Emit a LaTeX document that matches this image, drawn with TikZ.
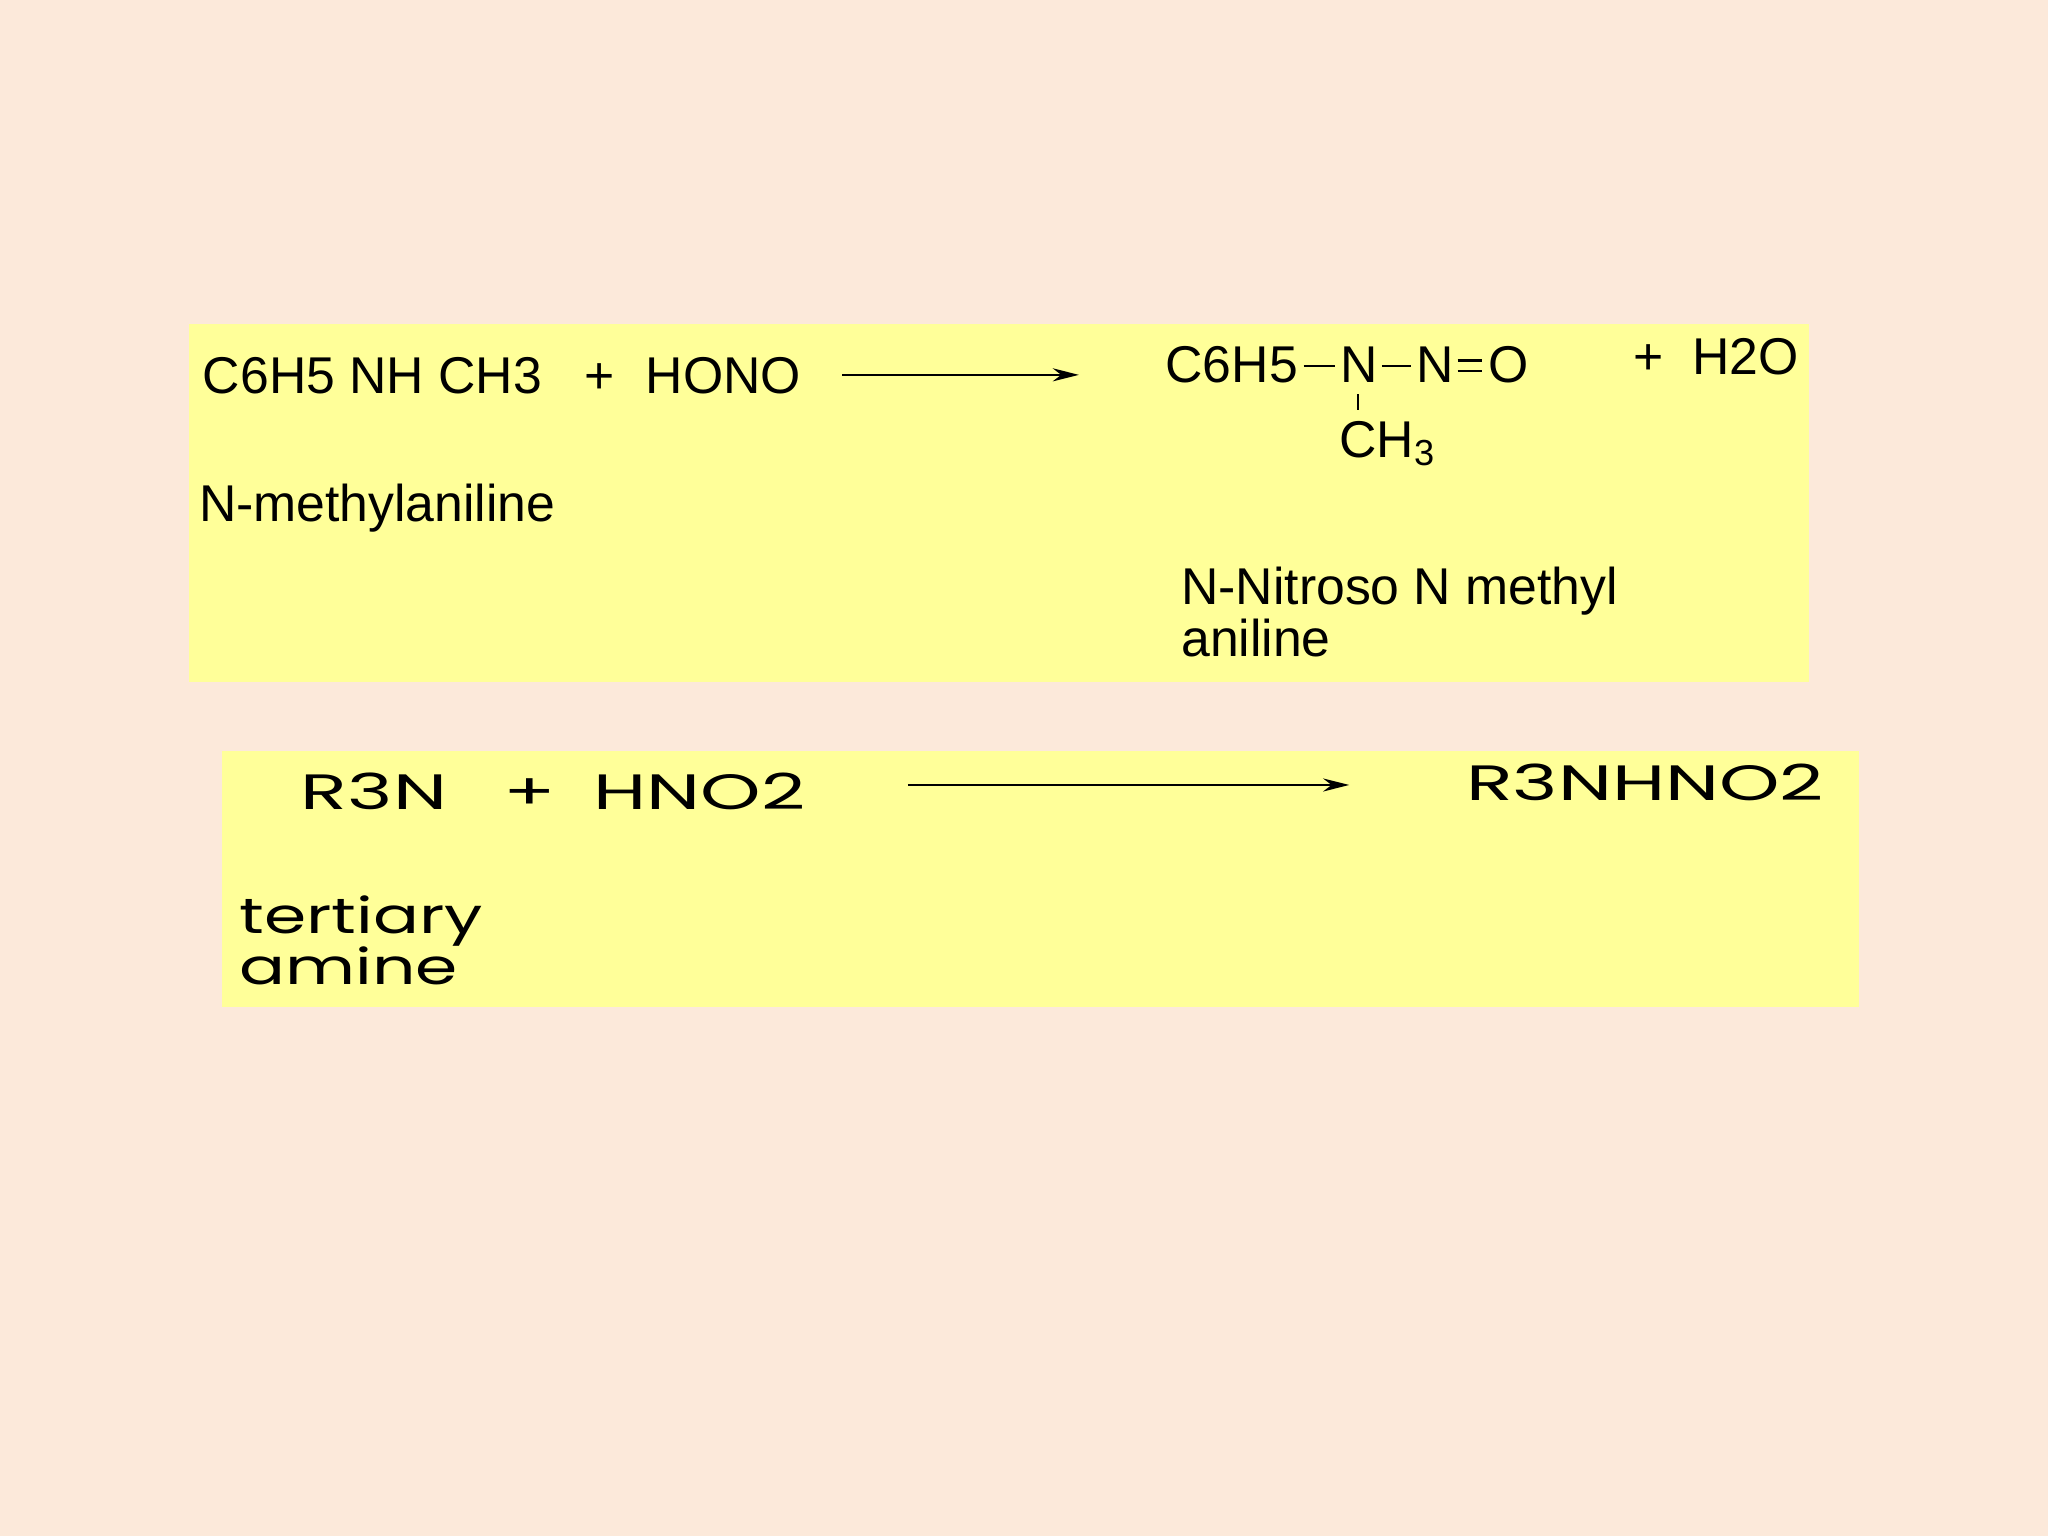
\documentclass[tikz,border=0pt]{standalone}
\usepackage{fontspec}
\usepackage{graphicx}
\setmainfont{Liberation Sans}
\newfontfamily\geofont{Poppins}
\usetikzlibrary{arrows.meta}
\definecolor{peach}{HTML}{FCE9DA}
\definecolor{paleyellow}{HTML}{FFFF99}
\newcommand{\wide}[1]{\scalebox{1.55}[1]{#1}}
\tikzset{
  t1/.style={inner sep=0pt,font=\fontsize{19.8}{23}\selectfont,anchor=base west},
  t2/.style={inner sep=0pt,font=\geofont\fontsize{19}{20}\selectfont,anchor=base west},
  rxn/.style={-{Stealth[length=10pt,width=5pt]},line width=1pt},
  bond/.style={line width=0.8pt}
}
\begin{document}
\begin{tikzpicture}[x=0.5pt,y=-0.5pt]
\fill[peach] (0,0) rectangle (1568,1176);
\useasboundingbox (0,0) rectangle (1568,1176);
\fill[paleyellow] (145,248) rectangle (1385,522);
\fill[paleyellow] (170,575) rectangle (1423,771);
% reaction 1
\node[t1] (r1) at (155,301) {C6H5 NH CH3};
\node[t1] (p1) at (447,301) {+};
\node[t1] (h1) at (494,301) {HONO};
\node[t1] (n1) at (152,399) {N-methylaniline};
\coordinate (a1s) at (645,287);
\coordinate (a1e) at (826,287);
\draw[rxn] (a1s) -- (a1e);
\node[t1] (c6) at (892,293) {C6H5};
\node[t1] (na) at (1026,293) {N};
\node[t1] (nb) at (1084,293) {N};
\node[t1] (o) at (1139,293) {O};
\node[t1] (ch) at (1025,350) {CH\textsubscript{3}};
\draw[bond] (998,280) -- (1022,280);
\draw[bond] (1058,280) -- (1080,280);
\draw[bond] (1116,276) -- (1135,276);
\draw[bond] (1116,284) -- (1135,284);
\draw[bond] (1040,302) -- (1040,314);
\node[t1] (h2o) at (1250,287) {+\ \ H2O};
\node[t1] (nn) at (904,463) {N-Nitroso N methyl};
\node[t1] (an) at (904,503) {aniline};
% reaction 2
\node[t2] (r3n) at (230,620) {\wide{R3N}};
\node[t2] (p2) at (385,620) {\wide{+}};
\node[t2] (hno2) at (454,620) {\wide{HNO2}};
\coordinate (a2s) at (695,601);
\coordinate (a2e) at (1033,601);
\draw[rxn] (a2s) -- (a2e);
\node[t2] (prod) at (1122,613) {\wide{R3NHNO2}};
\node[t2] (ter) at (183,715) {\scalebox{1.37}[1]{tertiary}};
\node[t2] (am) at (183,754) {\scalebox{1.37}[1]{amine}};
\end{tikzpicture}
\end{document}
